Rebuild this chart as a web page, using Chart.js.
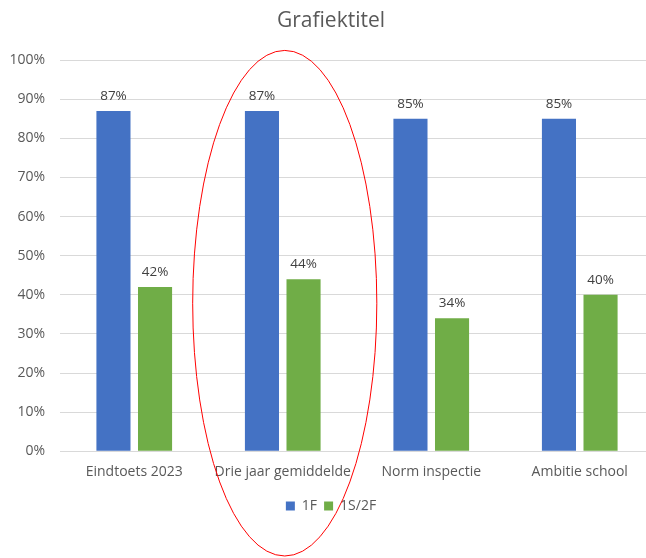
<!DOCTYPE html>
<html><head><meta charset="utf-8">
<script src="https://cdn.jsdelivr.net/npm/chart.js@4/dist/chart.umd.min.js"></script>
<style>html,body{margin:0;padding:0;overflow:hidden;background:#fff}#wrap{width:660px;height:558px}</style>
</head><body><div id="wrap"><canvas id="c" width="660" height="558"></canvas></div>
<script>
const categories = ["Eindtoets 2023", "Drie jaar gemiddelde", "Norm inspectie", "Ambitie school"];
const series1F = [87, 87, 85, 85];
const series1S2F = [42, 44, 34, 40];
const yTicks = [0,10,20,30,40,50,60,70,80,90,100];
const FONT = "'Open Sans', 'Noto Sans', sans-serif";

const labelPlugin = {
  id: 'labels',
  afterDatasetsDraw(chart) {
    const ctx = chart.ctx;
    ctx.save();
    ctx.font = "13.5px " + FONT;
    ctx.fillStyle = "#404040";
    ctx.textAlign = "center";
    ctx.textBaseline = "alphabetic";
    chart.data.datasets.forEach((ds, i) => {
      chart.getDatasetMeta(i).data.forEach((bar, j) => {
        ctx.fillText(ds.data[j] + "%", bar.x, bar.y - 11);
      });
    });
    ctx.restore();
  }
};
const ellipsePlugin = {
  id: 'ellipse',
  afterDraw(chart) {
    const ctx = chart.ctx, xs = chart.scales.x, ys = chart.scales.y;
    const cx = xs.getPixelForValue(1) + 2;
    const catW = xs.getPixelForValue(1) - xs.getPixelForValue(0);
    const top = ys.getPixelForValue(102.5), bot = ys.getPixelForValue(-26.8);
    ctx.save();
    ctx.strokeStyle = "#FF0000";
    ctx.lineWidth = 1;
    ctx.beginPath();
    ctx.ellipse(cx, (top + bot) / 2, catW * 0.62, (bot - top) / 2, 0, 0, Math.PI * 2);
    ctx.stroke();
    ctx.restore();
  }
};

new Chart(document.getElementById('c'), {
  type: 'bar',
  data: {
    labels: categories,
    datasets: [
      { label: "1F", data: series1F, backgroundColor: "#4472C4", categoryPercentage: 0.56, barPercentage: 0.82 },
      { label: "1S/2F", data: series1S2F, backgroundColor: "#70AD47", categoryPercentage: 0.56, barPercentage: 0.82 }
    ]
  },
  options: {
    responsive: false,
    animation: false,
    layout: { padding: { left: 8, right: 6, top: 0, bottom: 35 } },
    plugins: {
      title: { display: true, text: "Grafiektitel", color: "#595959", font: { family: FONT, size: 21, weight: 'normal' }, padding: { top: 8, bottom: 27 } },
      legend: {
        position: 'bottom',
        labels: { color: "#595959", font: { family: FONT, size: 14 }, boxWidth: 9, boxHeight: 9, padding: 7 }
      },
      tooltip: { enabled: false }
    },
    scales: {
      x: {
        grid: { display: false, drawTicks: false },
        border: { display: true, color: "#D9D9D9" },
        ticks: { color: "#595959", font: { family: FONT, size: 14 }, padding: 12 }
      },
      y: {
        min: 0, max: 100,
        afterBuildTicks(s) { s.ticks = yTicks.map(v => ({ value: v })); },
        afterFit(s) { s.width = 52; },
        grid: { color: "#D9D9D9", drawTicks: false },
        border: { display: false },
        ticks: { color: "#595959", font: { family: FONT, size: 14 }, padding: 15, callback: v => v + "%" }
      }
    }
  },
  plugins: [labelPlugin, ellipsePlugin]
});
</script></body></html>
